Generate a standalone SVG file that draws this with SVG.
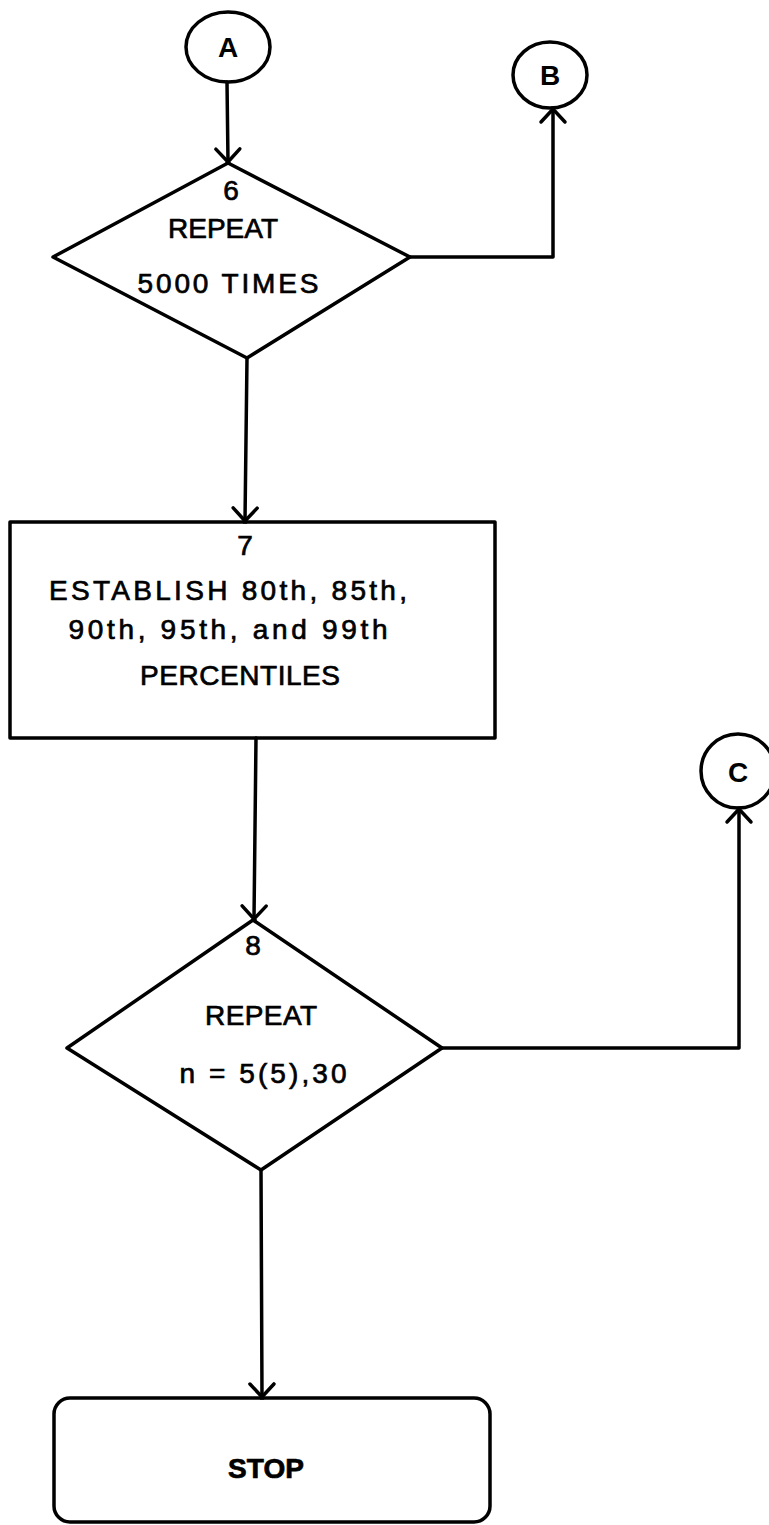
<svg xmlns="http://www.w3.org/2000/svg" width="769" height="1525" viewBox="0 0 769 1525">
<defs>
<style>
.s{fill:none;stroke:#000;stroke-width:3.5;stroke-linejoin:round;stroke-linecap:round}
.t{font-family:"Liberation Sans",Arial,sans-serif;font-size:28px;fill:#000;stroke:#000;stroke-width:0.7;text-anchor:middle}
.l{font-family:"Liberation Sans",Arial,sans-serif;font-size:28px;fill:#000;text-anchor:middle;font-weight:bold}
</style>
<marker id="arr" markerUnits="userSpaceOnUse" markerWidth="30" markerHeight="30" viewBox="-16 -15 20 30" refX="0" refY="0" orient="auto">
<path d="M-13,-12 L1,1 M-13,12 L1,-1" fill="none" stroke="#000" stroke-width="3.5" stroke-linecap="round"/>
</marker>
</defs>
<rect width="769" height="1525" fill="#fff"/>
<g id="connectors">
<path class="s" d="M227,82 L228,162" marker-end="url(#arr)"/>
<path class="s" d="M410,257 L553,257 L553,109" marker-end="url(#arr)"/>
<path class="s" d="M247,358 L245,521" marker-end="url(#arr)"/>
<path class="s" d="M256,738 L254,919" marker-end="url(#arr)"/>
<path class="s" d="M442,1048 L739,1048 L739,809" marker-end="url(#arr)"/>
<path class="s" d="M261,1170 L262,1397" marker-end="url(#arr)"/>
</g>
<g id="nodeA">
<ellipse class="s" cx="228" cy="47" rx="42" ry="35"/>
<text class="l" x="228" y="57">A</text>
</g>
<g id="nodeB">
<ellipse class="s" cx="550" cy="75" rx="37" ry="33"/>
<text class="l" x="550" y="85">B</text>
</g>
<g id="nodeC">
<ellipse class="s" cx="738" cy="771" rx="37" ry="37"/>
<text class="l" x="738" y="782">C</text>
</g>
<g id="node6">
<path class="s" d="M228,163 L410,257 L247,358 L53,257 Z"/>
<text class="t" x="231" y="200">6</text>
<text class="t" x="223" y="238" textLength="110" lengthAdjust="spacing">REPEAT</text>
<text class="t" x="228" y="293" textLength="181" lengthAdjust="spacing">5000 TIMES</text>
</g>
<g id="node7">
<rect class="s" x="10" y="522" width="485" height="216"/>
<text class="t" x="245" y="555">7</text>
<text class="t" x="228" y="600" textLength="358" lengthAdjust="spacing">ESTABLISH 80th, 85th,</text>
<text class="t" x="228" y="639" textLength="319" lengthAdjust="spacing">90th, 95th, and 99th</text>
<text class="t" x="240" y="685" textLength="200" lengthAdjust="spacing">PERCENTILES</text>
</g>
<g id="node8">
<path class="s" d="M253,920 L442,1048 L261,1170 L67,1048 Z"/>
<text class="t" x="253" y="955">8</text>
<text class="t" x="261" y="1025" textLength="112" lengthAdjust="spacing">REPEAT</text>
<text class="t" x="263" y="1083" textLength="167" lengthAdjust="spacing">n = 5(5),30</text>
</g>
<g id="stop">
<rect class="s" x="54" y="1398" width="436" height="124" rx="16" ry="16"/>
<text class="t" x="266" y="1478" textLength="76" lengthAdjust="spacing" font-weight="bold">STOP</text>
</g>
</svg>
